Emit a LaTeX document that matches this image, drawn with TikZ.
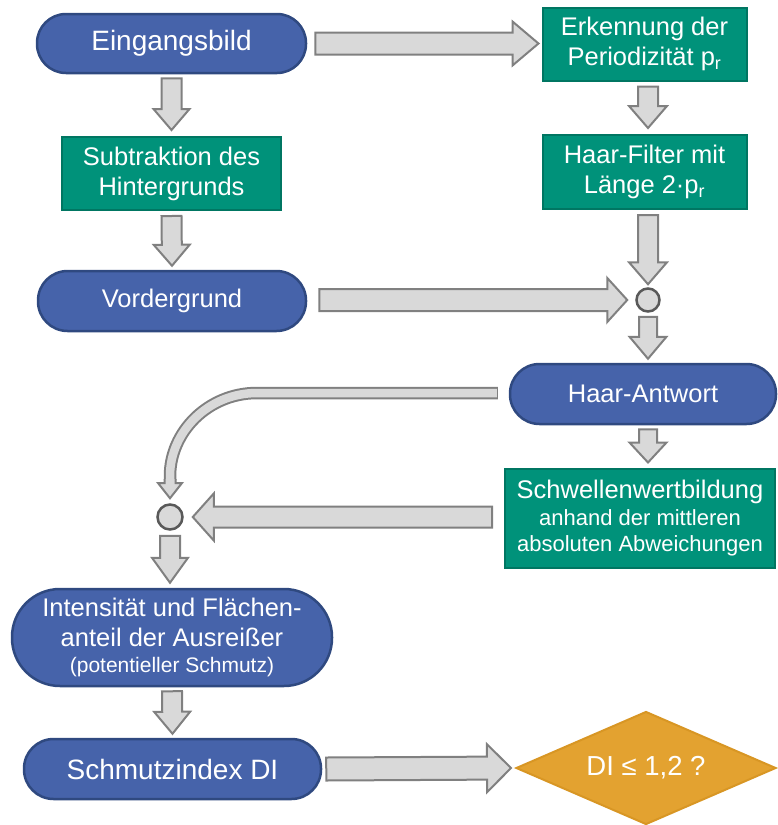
\documentclass[tikz,border=0pt]{standalone}
\usepackage{fontspec}
\setmainfont{Liberation Sans}
\usetikzlibrary{calc,shapes.geometric}
\definecolor{bluefill}{RGB}{70,99,170}
\definecolor{blueborder}{RGB}{47,73,128}
\definecolor{tealfill}{RGB}{0,146,122}
\definecolor{tealborder}{RGB}{0,118,98}
\definecolor{orangefill}{RGB}{227,162,48}
\definecolor{orangeborder}{RGB}{216,150,36}
\definecolor{arrowfill}{RGB}{217,217,217}
\definecolor{arrowborder}{RGB}{128,128,128}
\definecolor{circborder}{RGB}{89,89,89}
\tikzset{
  stadium/.style={draw=blueborder, fill=bluefill, line width=2.5pt, text=white,
    inner sep=0pt, align=center},
  tealbox/.style={draw=tealborder, fill=tealfill, line width=2pt, text=white,
    inner sep=0pt, align=center},
  decision/.style={diamond, aspect=2.3, draw=orangeborder, fill=orangefill, line width=2pt,
    text=white, inner sep=0pt, align=center},
  joint/.style={circle, draw=circborder, fill=arrowfill, line width=2.5pt,
    inner sep=0pt, minimum size=23pt},
  blockarrow/.style={fill=arrowfill, draw=arrowborder, line width=2pt, line join=miter},
  fbig/.style={font=\fontsize{28}{32}\selectfont},
  fmid/.style={font=\fontsize{25.5}{30}\selectfont},
}
% #1 from, #2 to (tip), #3 shaft half width, #4 head half width, #5 head length
\newcommand\barrow[5]{%
  \coordinate (hb) at ($(#2)!#5!(#1)$);
  \filldraw[blockarrow] ($(#1)!#3!90:(#2)$) -- ($(hb)!#3!90:(#2)$) -- ($(hb)!#4!90:(#2)$)
    -- (#2) -- ($(hb)!#4!-90:(#2)$) -- ($(hb)!#3!-90:(#2)$) -- ($(#1)!#3!-90:(#2)$) -- cycle;}
\begin{document}
\begin{tikzpicture}[x=1pt,y=-1pt]
\useasboundingbox (0,0) rectangle (777,825);
% nodes
\node[stadium, fbig, minimum width=269pt, minimum height=59pt, rounded corners=29pt] (ein) at (171.5,43.5) {Eingangsbild};
\node[tealbox, fmid, minimum width=204pt, minimum height=73pt] (erk) at (644.5,44) {Erkennung der\\Periodizität p\textsubscript{r}};
\node[tealbox, fmid, minimum width=219pt, minimum height=73pt] (subtr) at (171.5,173.5) {Subtraktion des\\Hintergrunds};
\node[tealbox, fmid, minimum width=204pt, minimum height=74pt] (haarF) at (644.5,172) {Haar-Filter mit\\Länge 2·p\textsubscript{r}};
\node[stadium, fmid, minimum width=268pt, minimum height=60pt, rounded corners=29.5pt] (vord) at (172,301) {Vordergrund};
\node[joint] (c1) at (648,300) {};
\node[stadium, fmid, minimum width=266pt, minimum height=60pt, rounded corners=29.5pt] (haarA) at (643,394) {Haar-Antwort};
\node[tealbox, fmid, minimum width=270pt, minimum height=99pt] (schwelle) at (640,518)
  {Schwellenwertbildung\\[-3pt]{\fontsize{22}{26}\selectfont anhand der mittleren}\\[-4pt]{\fontsize{22}{26}\selectfont absoluten Abweichungen}};
\node[joint, minimum size=25pt] (c2) at (170,517) {};
\node[stadium, fmid, minimum width=320pt, minimum height=97pt, rounded corners=48pt] (inten) at (172,637.5)
  {Intensität und Flächen-\\anteil der Ausreißer\\[-4pt]{\fontsize{21}{25}\selectfont (potentieller Schmutz)}};
\node[stadium, fbig, minimum width=297pt, minimum height=60pt, rounded corners=29.5pt] (schmutz) at (172.5,769) {Schmutzindex DI};
\node[decision, font=\fontsize{27.5}{32}\selectfont, minimum width=260pt, minimum height=113pt] (dec) at (646,768) {DI ≤ 1,2 ?};
% straight block arrows
\barrow{$(ein.south)+(0,4)$}{$(subtr.north)+(0,-6)$}{10pt}{18pt}{21pt}
\barrow{$(subtr.south)+(0,5)$}{$(vord.north)+(0,-4)$}{10pt}{18pt}{21pt}
\barrow{$(ein.east)+(8,0)$}{$(erk.west |- ein.east)+(-3,0)$}{11pt}{22pt}{26pt}
\barrow{$(erk.south -| c1)+(0,5)$}{$(haarF.north -| c1)+(0,-6)$}{10pt}{19pt}{22pt}
\barrow{$(haarF.south -| c1)+(0,5)$}{$(c1.north)+(0,-3)$}{10pt}{19pt}{22pt}
\barrow{$(vord.east |- c1)+(12,0)$}{$(c1.west)+(-8,0)$}{11pt}{22pt}{20pt}
\barrow{$(c1.south)+(0,4)$}{$(haarA.north -| c1)+(0,-4)$}{9pt}{18.5pt}{22pt}
\barrow{$(haarA.south -| c1)+(0,4)$}{$(schwelle.north -| c1)+(0,-5)$}{9pt}{18.5pt}{20pt}
\barrow{$(schwelle.west |- c2)+(-12,0)$}{$(c2.east)+(9,0)$}{10.5pt}{23.5pt}{21pt}
\barrow{$(c2.south)+(0,5)$}{$(inten.north -| c2)+(0,-5)$}{10pt}{18pt}{25pt}
\barrow{$(inten.south)+(0,4)$}{$(schmutz.north)+(0,-4)$}{10pt}{18pt}{22pt}
\barrow{$(schmutz.east)+(4,0)$}{$(dec.west)+(-4,0)$}{11.5pt}{24pt}{24pt}
% curved arrow from Haar-Antwort to lower joint
\coordinate (cs) at ($(haarA.west)+(-12,-1)$);
\coordinate (ce) at ($(c2.north)+(0,-5)$);
\draw[arrowborder, line width=12.5pt] ($(cs)+(1,0)$) -- (257,393) .. controls (208,393) and (170,432) .. (170,476) -- (170,480);
\draw[arrowfill, line width=8.5pt] (cs) -- (257,393) .. controls (208,393) and (170,432) .. (170,476) -- (170,482);
\fill[arrowfill] (164.5,479) -- (164.5,483) -- (158,483) -- (ce) -- (182,483) -- (175.5,483) -- (175.5,479) -- cycle;
\draw[arrowborder, line width=2pt, line join=miter] (164.5,479) -- (164.5,483) -- (158,483) -- (ce) -- (182,483) -- (175.5,483) -- (175.5,479);
\end{tikzpicture}
\end{document}
